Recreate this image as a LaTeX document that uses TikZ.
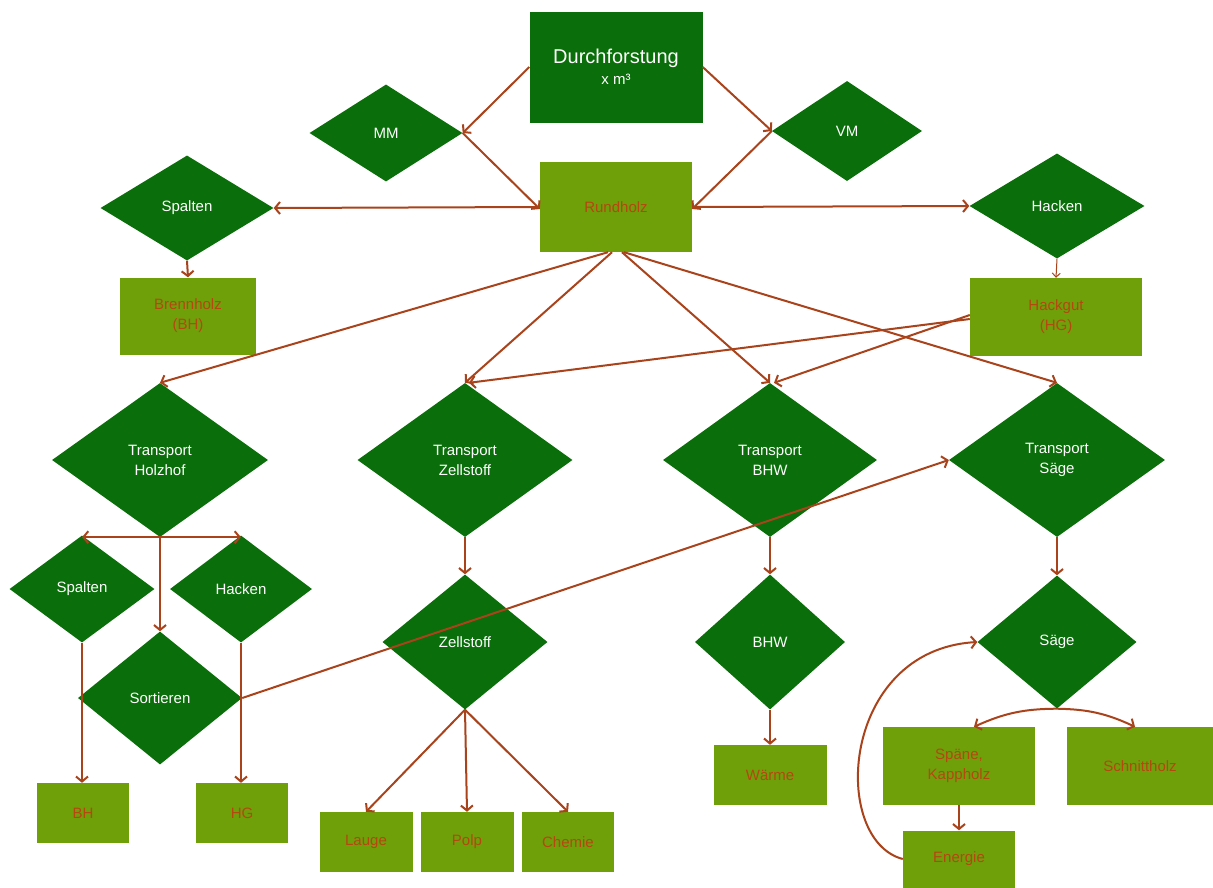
\documentclass[tikz,border=0pt]{standalone}
\usepackage{fontspec}
\setmainfont{Liberation Sans}
\usetikzlibrary{shapes.geometric,arrows.meta}
\definecolor{dg}{HTML}{0A6E0A}
\definecolor{lg}{HTML}{6FA00A}
\definecolor{tx}{HTML}{B5470F}
\definecolor{ln}{HTML}{A8431C}
\begin{document}
\begin{tikzpicture}[x=1pt,y=-1pt,
  dia/.style={diamond, fill=dg, text=white, inner sep=0pt, align=center, font=\fontsize{15}{20}\selectfont},
  lbox/.style={rectangle, fill=lg, text=tx, inner sep=0pt, align=center, font=\fontsize{15}{20}\selectfont},
  dbox/.style={rectangle, fill=dg, text=white, inner sep=0pt, align=center},
  con/.style={draw=ln, line width=2pt, -{Straight Barb[length=5pt,width=12pt,line width=2pt]}},
  thin/.style={draw=ln, line width=1pt, -{Straight Barb[length=4pt,width=8pt,line width=1pt]}}]
\useasboundingbox (0,0) rectangle (1213,887);
% top
\node[dbox, minimum width=173pt, minimum height=111pt] (df) at (616,67) {{\fontsize{20}{24}\selectfont Durchforstung}\\[5pt]{\fontsize{15}{16}\selectfont x m³}};
\node[dia, minimum width=153pt, minimum height=97pt] (mm) at (386,133) {MM};
\node[dia, minimum width=150pt, minimum height=100pt] (vm) at (847,131) {VM};
\node[lbox, minimum width=152pt, minimum height=90pt] (rh) at (616,207) {Rundholz};
\node[dia, minimum width=173pt, minimum height=105pt] (spt) at (187,208) {Spalten};
\node[dia, minimum width=175pt, minimum height=105pt] (hkt) at (1057,206) {Hacken};
\node[lbox, minimum width=136pt, minimum height=77pt] (bh) at (188,316) {Brennholz\\(BH)};
\node[lbox, minimum width=172pt, minimum height=78pt] (hg) at (1056,317) {Hackgut\\(HG)};
% transport
\node[dia, minimum width=216pt, minimum height=154pt] (thz) at (160,460) {Transport\\Holzhof};
\node[dia, minimum width=215pt, minimum height=154pt] (tzs) at (465,460) {Transport\\Zellstoff};
\node[dia, minimum width=214pt, minimum height=154pt] (tbhw) at (770,460) {Transport\\BHW};
\node[dia, minimum width=216pt, minimum height=154pt] (tsg) at (1057,460) {Transport\\Säge};
% lower left
\node[dia, minimum width=145pt, minimum height=107pt] (sp2) at (82,589) {Spalten};
\node[dia, minimum width=142pt, minimum height=107pt] (hk2) at (241,589) {Hacken};
\node[dia, minimum width=164pt, minimum height=133pt] (sort) at (160,698) {Sortieren};
\node[lbox, minimum width=92pt, minimum height=60pt] (bh2) at (83,813) {BH};
\node[lbox, minimum width=92pt, minimum height=60pt] (hg2) at (242,813) {HG};
% middle
\node[dia, minimum width=165pt, minimum height=135pt] (zs) at (465,642) {Zellstoff};
\node[lbox, minimum width=93pt, minimum height=60pt] (lauge) at (366,842) {Lauge};
\node[lbox, minimum width=93pt, minimum height=60pt] (polp) at (467,842) {Polp};
\node[lbox, minimum width=92pt, minimum height=60pt] (chem) at (568,842) {Chemie};
\node[dia, minimum width=150pt, minimum height=135pt] (bhw) at (770,642) {BHW};
\node[lbox, minimum width=113pt, minimum height=60pt] (warm) at (770,775) {Wärme};
% right
\node[dia, minimum width=159pt, minimum height=133pt] (sg) at (1057,642) {Säge};
\node[lbox, minimum width=152pt, minimum height=78pt] (span) at (959,766) {Späne,\\Kappholz};
\node[lbox, minimum width=146pt, minimum height=78pt] (sch) at (1140,766) {Schnittholz};
\node[lbox, minimum width=112pt, minimum height=57pt] (en) at (959,859) {Energie};
% connectors
\draw[con] (df.west) -- (mm.east);
\draw[con] (df.east) -- (vm.west);
\draw[con] (mm.east) -- ([yshift=-2pt]rh.west);
\draw[con] (vm.west) -- ([yshift=-2pt]rh.east);
\draw[con] (rh.west) -- (spt.east);
\draw[con] (rh.east) -- (hkt.west);
\draw[con] (spt.south) -- (bh.north);
\draw[thin] (hkt.south) -- (hg.north);
\draw[con] ([xshift=-8pt]rh.south) -- (thz.north);
\draw[con] ([xshift=-4pt]rh.south) -- (tzs.north);
\draw[con] ([xshift=6pt]rh.south) -- (tbhw.north);
\draw[con] ([xshift=8pt]rh.south) -- (tsg.north);
\draw[con] ([yshift=-2pt]hg.west) -- ([xshift=4pt]tzs.north);
\draw[con] ([yshift=2pt]hg.west) -- ([xshift=4pt]tbhw.north);
\draw[con] (thz.south) -- (sp2.north |- thz.south);
\draw[con] (thz.south) -- (hk2.north |- thz.south);
\draw[con] (thz.south) -- (sort.north);
\draw[con] (sp2.south) -- (bh2.north -| sp2.south);
\draw[con] (hk2.south) -- (hg2.north -| hk2.south);
\draw[con] (sort.east) -- (tsg.west);
\draw[con] (tzs.south) -- (zs.north);
\draw[con] (zs.south) -- (lauge.north);
\draw[con] (zs.south) -- (polp.north);
\draw[con] (zs.south) -- (chem.north);
\draw[con] (tbhw.south) -- (bhw.north);
\draw[con] (bhw.south) -- (warm.north);
\draw[con] (tsg.south) -- (sg.north);
\draw[con] (sg.south) to[bend right=12] ([xshift=15pt]span.north);
\draw[con] (sg.south) to[bend left=12] ([xshift=-5pt]sch.north);
\draw[con] (span.south) -- (en.north);
\draw[con] (en.west) .. controls (830,840) and (840,650) .. (sg.west);
\end{tikzpicture}
\end{document}
